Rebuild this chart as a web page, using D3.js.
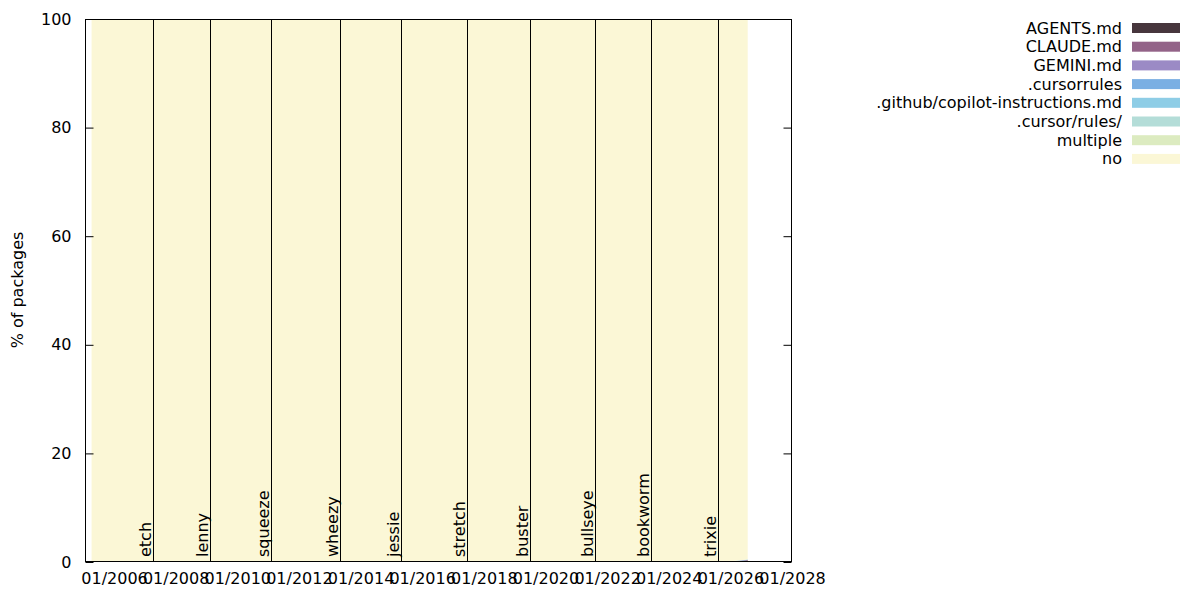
<!DOCTYPE html>
<html><head><meta charset="utf-8">
<script src="https://cdn.jsdelivr.net/npm/d3@7"></script>
<style>body{margin:0;background:#fff}svg{font-family:"DejaVu Sans",sans-serif}</style>
</head><body><svg id="c" width="1200" height="600"></svg>
<script>
const dates = ["2005-04-10","2006-01-01","2007-01-01","2008-01-01","2009-01-01","2010-01-01","2011-01-01","2012-01-01","2013-01-01","2014-01-01","2015-01-01","2016-01-01","2017-01-01","2018-01-01","2019-01-01","2020-01-01","2021-01-01","2022-01-01","2023-01-01","2024-01-01","2025-01-01","2025-09-01","2025-10-15","2025-12-01","2026-01-15","2026-03-01","2026-04-15","2026-06-01","2026-07-25"];
const agents   = [0,0,0,0,0,0,0,0,0,0,0,0,0,0,0,0,0,0,0,0,0,0,0.01,0.03,0.06,0.10,0.15,0.20,0.26];
const claude   = [0,0,0,0,0,0,0,0,0,0,0,0,0,0,0,0,0,0,0,0,0,0,0.00,0.01,0.02,0.03,0.05,0.07,0.09];
const gemini   = [0,0,0,0,0,0,0,0,0,0,0,0,0,0,0,0,0,0,0,0,0,0,0,0,0.01,0.01,0.02,0.02,0.03];
const cursorrules = [0,0,0,0,0,0,0,0,0,0,0,0,0,0,0,0,0,0,0,0,0,0,0.01,0.01,0.01,0.02,0.02,0.02,0.02];
const copilot  = [0,0,0,0,0,0,0,0,0,0,0,0,0,0,0,0,0,0,0,0,0,0,0,0.01,0.01,0.02,0.03,0.04,0.05];
const cursorDir = [0,0,0,0,0,0,0,0,0,0,0,0,0,0,0,0,0,0,0,0,0,0,0,0,0,0.01,0.01,0.01,0.01];
const multiple = [0,0,0,0,0,0,0,0,0,0,0,0,0,0,0,0,0,0,0,0,0,0,0,0.01,0.01,0.02,0.02,0.03,0.04];
const seriesNames = ["AGENTS.md","CLAUDE.md","GEMINI.md",".cursorrules",".github/copilot-instructions.md",".cursor/rules/","multiple","no"];
const seriesColors = ["#47363d","#936388","#9b8ac5","#7aafe3","#8ecde6","#b4ddd8","#dcebc0","#fbf7d6"];
const releases = ["etch","lenny","squeeze","wheezy","jessie","stretch","buster","bullseye","bookworm","trixie"];
const releaseDates = ["2007-04-08","2009-02-14","2011-02-06","2013-05-04","2015-04-25","2017-06-17","2019-07-06","2021-08-14","2023-06-10","2025-08-09"];
const xTicks = ["2006-01-01","2008-01-01","2010-01-01","2012-01-01","2014-01-01","2016-01-01","2018-01-01","2020-01-01","2022-01-01","2024-01-01","2026-01-01","2028-01-01"];
const yTicks = [0,20,40,60,80,100];

const FS = 16;
const parse = d3.timeParse("%Y-%m-%d");
const fmt = d3.timeFormat("%m/%Y");
const known = [agents,claude,gemini,cursorrules,copilot,cursorDir,multiple];
const rows = dates.map((d,i)=>{
  const r = {date: parse(d)};
  let s = 0;
  known.forEach((arr,k)=>{ r[seriesNames[k]] = arr[i]; s += arr[i]; });
  r["no"] = 100 - s;
  return r;
});

const svg = d3.select("#c");
const L=85,R=792,T=19,B=562;
const x = d3.scaleTime().domain([parse("2005-01-22"), parse("2028-01-01")]).range([L,R]);
const y = d3.scaleLinear().domain([0,100]).range([B,T]);

const stack = d3.stack().keys(seriesNames);
const layers = stack(rows);
const area = d3.area().x(d=>x(d.data.date)).y0(d=>y(d[0])).y1(d=>y(d[1]));
svg.append("g").selectAll("path").data(layers).join("path")
  .attr("d",area).attr("fill",(d,i)=>seriesColors[i]);

// release lines and labels
const rel = svg.append("g");
releases.forEach((name,i)=>{
  const xp = Math.round(x(parse(releaseDates[i])))+0.5;
  rel.append("line").attr("x1",xp).attr("x2",xp).attr("y1",T).attr("y2",B)
    .attr("stroke","#000").attr("stroke-width",1);
  rel.append("text").attr("transform",`translate(${xp-3},${B-5}) rotate(-90)`)
    .attr("font-size",FS).attr("fill","#000").text(name);
});

// frame
svg.append("rect").attr("x",L+0.5).attr("y",T+0.5).attr("width",R-L-1).attr("height",B-T-1)
  .attr("fill","none").attr("stroke","#000").attr("stroke-width",1);

// y axis ticks (inside, mirrored)
const yl = d3.axisLeft(y).tickValues(yTicks).tickSize(-8).tickPadding(14);
const ga = svg.append("g").attr("transform",`translate(${L+0.5},0)`).call(yl);
ga.select(".domain").remove();
ga.selectAll("text").attr("font-size",FS).attr("font-family","DejaVu Sans").attr("fill","#000");
const yr = d3.axisRight(y).tickValues(yTicks).tickSize(-8).tickFormat("");
const gr = svg.append("g").attr("transform",`translate(${R-0.5},0)`).call(yr);
gr.select(".domain").remove();

// x axis labels
const xa = d3.axisBottom(x).tickValues(xTicks.map(parse)).tickFormat(fmt).tickSize(0).tickPadding(11);
const gx = svg.append("g").attr("transform",`translate(0,${B})`).call(xa);
gx.select(".domain").remove();
gx.selectAll("text").attr("font-size",FS).attr("font-family","DejaVu Sans").attr("fill","#000");

// y label
svg.append("text").attr("transform","translate(23,290) rotate(-90)").attr("text-anchor","middle")
  .attr("font-size",FS).text("% of packages");

// legend
const lg = svg.append("g");
seriesNames.forEach((n,i)=>{
  const yy = 28 + i*18.7;
  lg.append("text").attr("x",1122).attr("y",yy+5.5).attr("text-anchor","end").attr("font-size",FS).text(n);
  lg.append("rect").attr("x",1132).attr("y",yy-5).attr("width",48).attr("height",10).attr("fill",seriesColors[i]);
});
</script></body></html>
